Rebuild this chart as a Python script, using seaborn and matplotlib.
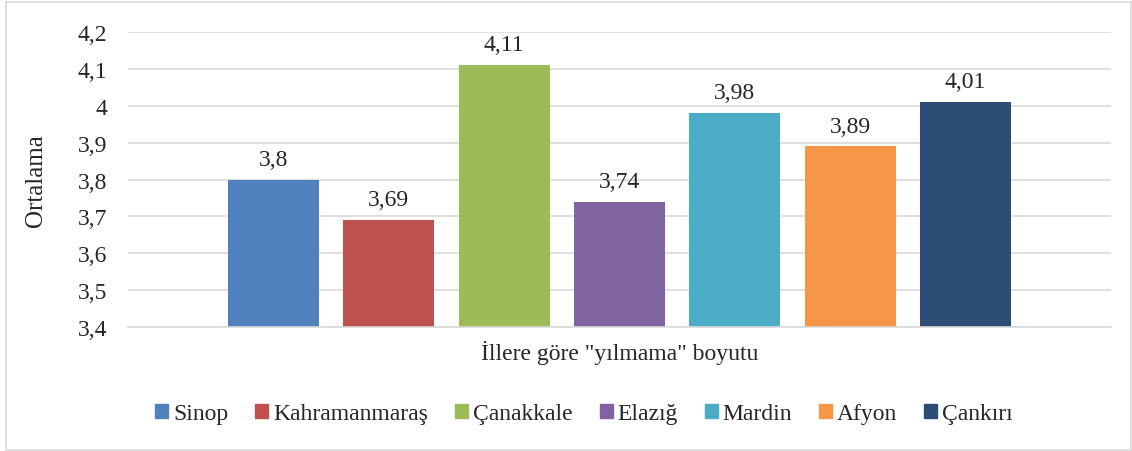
import matplotlib
matplotlib.use("Agg")
import matplotlib.pyplot as plt
import seaborn as sns
import pandas as pd
from matplotlib.patches import Rectangle

cities = ["Sinop", "Kahramanmaraş", "Çanakkale", "Elazığ", "Mardin", "Afyon", "Çankırı"]
values = [3.80, 3.69, 4.11, 3.74, 3.98, 3.89, 4.01]
value_labels = ["3,8", "3,69", "4,11", "3,74", "3,98", "3,89", "4,01"]
category = "İllere göre \"yılmama\" boyutu"
yticks = [3.4, 3.5, 3.6, 3.7, 3.8, 3.9, 4.0, 4.1, 4.2]
ytick_labels = ["3,4", "3,5", "3,6", "3,7", "3,8", "3,9", "4", "4,1", "4,2"]
colors = ["#4F81BD", "#C0504D", "#9BBB59", "#8064A2", "#4BACC6", "#F79646", "#2C4D75"]

sns.set_style("white")
plt.rcParams["font.family"] = ["Liberation Serif", "DejaVu Serif"]
FS = 17

df = pd.DataFrame({"cat": [category] * len(cities), "city": cities, "val": values})

fig = plt.figure(figsize=(11.32, 4.52), dpi=100)
ax = fig.add_axes([0.1131, 0.2743, 0.8684, 0.6527])

sns.barplot(data=df, x="cat", y="val", hue="city", hue_order=cities,
            palette=colors, width=0.8, gap=0.21, dodge=True, ax=ax,
            saturation=1, legend=True, errorbar=None, linewidth=0)

ax.set_ylim(3.4, 4.2)
ax.set_xlim(-0.487, 0.487)
ax.set_yticks(yticks)
ax.set_yticklabels(ytick_labels, fontsize=FS)
ax.tick_params(axis="y", length=0, pad=15)
ax.tick_params(axis="x", length=0, labelsize=FS, pad=9)
ax.set_xlabel("")
ax.set_ylabel("Ortalama", fontsize=FS + 1, labelpad=22)
ax.yaxis.grid(True, color="#D9D9D9", linewidth=1.2)
ax.set_axisbelow(True)
for s in ["left", "right", "top"]:
    ax.spines[s].set_visible(False)
ax.spines["bottom"].set_color("#D9D9D9")
ax.spines["bottom"].set_linewidth(1.2)

for cont, lab in zip(ax.containers, value_labels):
    ax.bar_label(cont, labels=[lab], padding=7, fontsize=FS)

ax.legend_.remove()
handles = [Rectangle((0, 0), 1, 1, color=c) for c in colors]
fig.legend(handles, cities, loc="center", bbox_to_anchor=(0.516, 0.082), ncol=7,
           frameon=False, prop={"family": ["Liberation Serif"], "size": FS},
           handlelength=0.55, handleheight=0.55,
           handletextpad=0.2, columnspacing=1.15)

fig.patches.append(Rectangle((0.005, 0.003), 0.994, 0.99, transform=fig.transFigure,
                             fill=False, edgecolor="#D9D9D9", linewidth=1.2))

fig.savefig("out.png", dpi=100)
